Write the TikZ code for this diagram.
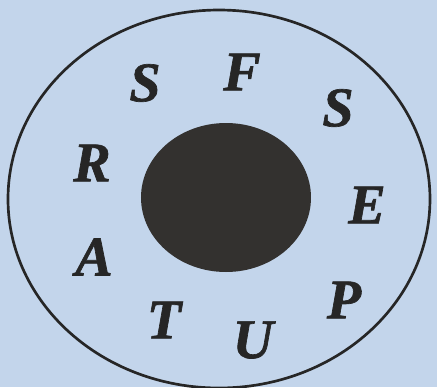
\documentclass[tikz,border=0pt]{standalone}
\usepackage{fontspec}
\setmainfont{Liberation Serif}
\newfontfamily\lettfont{Liberation Serif Bold Italic}[FakeBold=1.2]
\definecolor{bg}{HTML}{C3D5EB}
\definecolor{ink}{HTML}{262626}
\definecolor{blob}{HTML}{33312F}
\begin{document}
\begin{tikzpicture}[x=0.75pt,y=-0.75pt,
  lett/.style={font=\lettfont\fontsize{42}{42}\selectfont, text=ink, inner sep=0pt, anchor=center}]
\useasboundingbox (0,0) rectangle (437,387);
\fill[bg] (0,0) rectangle (437,387);
\clip (0,0) rectangle (437,387);
\draw[ink, line width=2pt] (219,199) ellipse [x radius=211, y radius=189];
\fill[blob] (226,197.5) ellipse [x radius=85, y radius=74.5];
\node[lett] (s1) at (145,83) {S};
\node[lett] (f) at (242,72) {F};
\node[lett] (s2) at (338,108) {S};
\node[lett] (r) at (92,163) {R};
\node[lett] (e) at (367,205) {E};
\node[lett] (a) at (94,257) {A};
\node[lett] (p) at (344,300) {P};
\node[lett] (t) at (164,320) {T};
\node[lett] (u) at (253,340) {U};
\end{tikzpicture}
\end{document}
